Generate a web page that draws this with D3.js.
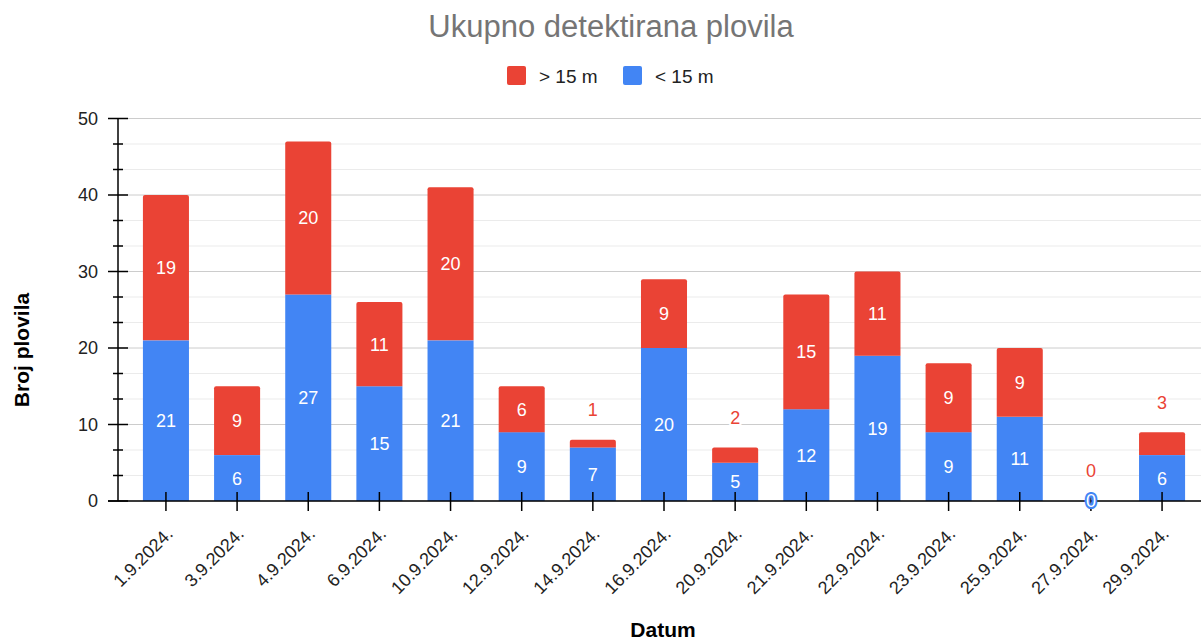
<!DOCTYPE html>
<html>
<head>
<meta charset="utf-8">
<script src="https://cdn.jsdelivr.net/npm/d3@7"></script>
<style>
  body { margin: 0; background: #fff; }
  text { font-family: "Liberation Sans", Arial, sans-serif; }
</style>
</head>
<body>
<svg id="chart" width="1201" height="643"></svg>
<script>
// dates on the x axis
var dates = ["1.9.2024.", "3.9.2024.", "4.9.2024.", "6.9.2024.", "10.9.2024.", "12.9.2024.", "14.9.2024.", "16.9.2024.", "20.9.2024.", "21.9.2024.", "22.9.2024.", "23.9.2024.", "25.9.2024.", "27.9.2024.", "29.9.2024."];
// < 15 m (blue, bottom)
var small = [21, 6, 27, 15, 21, 9, 7, 20, 5, 12, 19, 9, 11, 0, 6];
// > 15 m (red, top)
var large = [19, 9, 20, 11, 20, 6, 1, 9, 2, 15, 11, 9, 9, 0, 3];
var seriesNames = ["> 15 m", "< 15 m"];
var yTicks = [0, 10, 20, 30, 40, 50];

var red = "#ea4335", blue = "#4285f4";

var svg = d3.select("svg#chart");

var x = d3.scaleBand()
          .domain(dates)
          .range([130.4, 1197.6])
          .paddingInner(0.353)
          .paddingOuter(0.176);
var y = d3.scaleLinear().domain([0, 50]).range([501, 118.5]);

// gridlines, minor every 10/3
var minor = [];
for (let i = 0; i <= 15; i++) minor.push(i * 10 / 3);
const isMajor = d => Math.round(d * 3) % 30 === 0;

svg.append("g").selectAll("line")
   .data(minor)
   .enter().append("line")
   .attr("x1", 118).attr("x2", 1201)
   .attr("y1", d => y(d)).attr("y2", d => y(d))
   .attr("stroke", d => isMajor(d) ? "#cccccc" : "#ebebeb")
   .attr("stroke-width", 1);

// bars
var bars = svg.append("g");
dates.forEach(function(d, i) {
	var bw = x.bandwidth(), bx = x(d);
	if (small[i] > 0) {
		bars.append("rect")
			.attr("x", bx).attr("width", bw)
			.attr("y", y(small[i])).attr("height", y(0) - y(small[i]))
			.attr("fill", blue);
	}
	if (large[i] > 0) {
		var top = y(small[i] + large[i]);
		bars.append("path")
			.attr("d", "M" + bx + "," + y(small[i]) + "V" + (top + 2) + "Q" + bx + "," + top + " " + (bx + 2) + "," + top +
				"H" + (bx + bw - 2) + "Q" + (bx + bw) + "," + top + " " + (bx + bw) + "," + (top + 2) + "V" + y(small[i]) + "Z")
			.attr("fill", red);
	}
});

// x axis baseline and ticks
svg.append("line")
   .attr("x1", 108).attr("x2", 1201)
   .attr("y1", 501).attr("y2", 501)
   .attr("stroke", "#000").attr("stroke-width", 1.5);

var xAxis = svg.append("g").attr("transform", "translate(0,501)")
               .call(d3.axisBottom(x).tickSize(10).tickSizeOuter(0).tickPadding(0));
xAxis.select(".domain").remove();
xAxis.selectAll(".tick line").attr("y1", -9).attr("y2", 10).attr("stroke", "#000").attr("stroke-width", 1.5);
xAxis.selectAll(".tick text")
     .attr("text-anchor", "end")
     .attr("y", 0)
     .attr("dy", 0)
     .attr("transform", "translate(8,34) rotate(-45)")
     .attr("fill", "#222")
     .style("font-size", "18px");

// y axis
svg.append("line")
   .attr("x1", 118).attr("x2", 118)
   .attr("y1", 118.5).attr("y2", 501)
   .attr("stroke", "#000").attr("stroke-width", 1.5);
svg.append("g").selectAll("line")
   .data(minor)
   .enter().append("line")
   .attr("x1", d => isMajor(d) ? 108 : 113)
   .attr("x2", d => isMajor(d) ? 128 : 123)
   .attr("y1", d => y(d)).attr("y2", d => y(d))
   .attr("stroke", "#000").attr("stroke-width", 1.5);
svg.append("g").selectAll("text")
   .data(yTicks)
   .enter().append("text")
   .text(d => d)
   .attr("x", 98).attr("y", d => y(d))
   .attr("dy", "0.36em")
   .attr("text-anchor", "end")
   .attr("fill", "#222")
   .style("font-size", "18px");

// value labels
var labels = svg.append("g");
dates.forEach(function(d, i) {
	var cx = x(d) + x.bandwidth() / 2;
	// blue
	if (small[i] >= 3) {
		labels.append("text").text(small[i])
			.attr("x", cx).attr("y", (y(0) + y(small[i])) / 2).attr("dy", "0.36em")
			.attr("text-anchor", "middle").attr("fill", "#fff").style("font-size", "18px");
	} else {
		labels.append("text").text(small[i])
			.attr("x", cx).attr("y", y(0)).attr("dy", "0.36em")
			.attr("text-anchor", "middle").attr("fill", "#fff")
			.attr("stroke", blue).attr("stroke-width", 4).attr("paint-order", "stroke")
			.style("font-size", "18px");
	}
	// red
	if (large[i] >= 3 && !(large[i] === 3 && small[i] < 10)) {
		labels.append("text").text(large[i])
			.attr("x", cx).attr("y", (y(small[i]) + y(small[i] + large[i])) / 2).attr("dy", "0.36em")
			.attr("text-anchor", "middle").attr("fill", "#fff").style("font-size", "18px");
	} else {
		labels.append("text").text(large[i])
			.attr("x", cx).attr("y", y(small[i] + large[i]) - 30).attr("dy", "0.36em")
			.attr("text-anchor", "middle").attr("fill", red)
			.attr("stroke", "#fff").attr("stroke-width", 4).attr("paint-order", "stroke")
			.style("font-size", "18px");
	}
});

// title
svg.append("text").text("Ukupno detektirana plovila")
   .attr("x", 611).attr("y", 37)
   .attr("text-anchor", "middle").attr("fill", "#757575")
   .style("font-size", "31px");

// legend
var legendColors = [red, blue];
var legendX = [507, 623];
seriesNames.forEach(function(name, i) {
	svg.append("rect").attr("x", legendX[i]).attr("y", 66).attr("width", 19).attr("height", 19)
	   .attr("rx", 2).attr("fill", legendColors[i]);
	svg.append("text").text(name)
	   .attr("x", legendX[i] + 32).attr("y", 76).attr("dy", "0.36em")
	   .attr("fill", "#222").style("font-size", "19px");
});

// axis titles
svg.append("text").text("Datum")
   .attr("x", 663).attr("y", 637)
   .attr("text-anchor", "middle").attr("font-weight", "bold")
   .attr("fill", "#000").style("font-size", "21px");
svg.append("text").text("Broj plovila")
   .attr("transform", "translate(29,350) rotate(-90)")
   .attr("text-anchor", "middle").attr("font-weight", "bold")
   .attr("fill", "#000").style("font-size", "21px");
</script>
</body>
</html>
